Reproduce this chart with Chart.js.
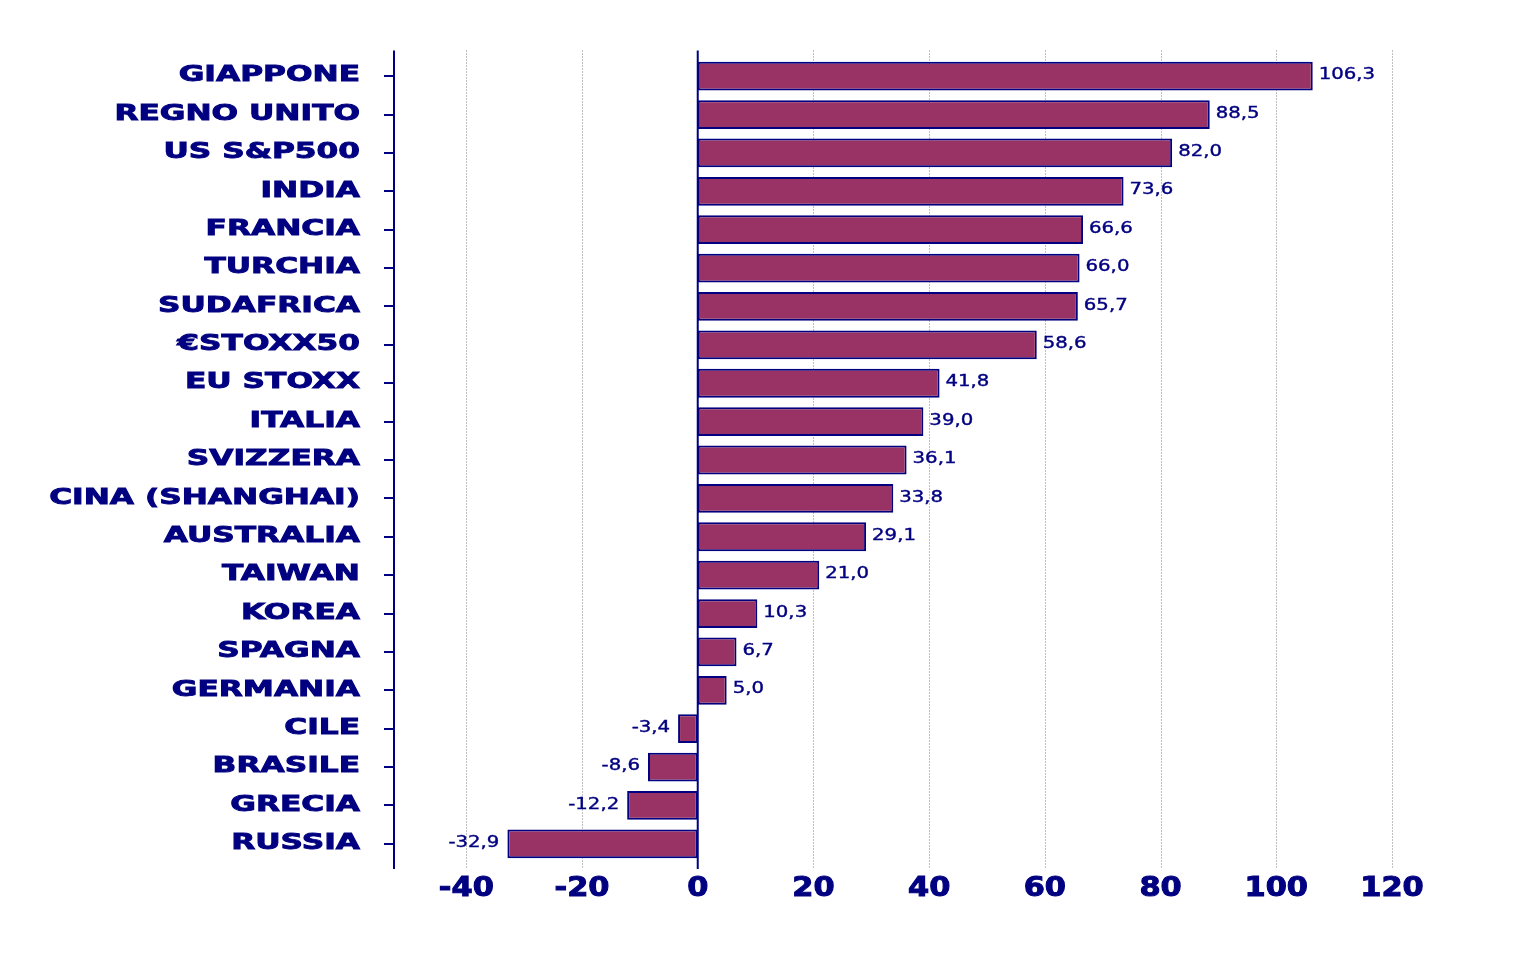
<!DOCTYPE html>
<html>
<head>
<meta charset="utf-8">
<script src="https://cdn.jsdelivr.net/npm/chart.js@4"></script>
<style>
  html, body { margin: 0; padding: 0; background: #fff; }
  #wrap { width: 1536px; height: 970px; }
</style>
</head>
<body>
<div id="wrap"><canvas id="chart" width="1536" height="970"></canvas></div>
<script>
const categories = ['GIAPPONE', 'REGNO UNITO', 'US S&P500', 'INDIA', 'FRANCIA', 'TURCHIA', 'SUDAFRICA',
  '€STOXX50', 'EU STOXX', 'ITALIA', 'SVIZZERA', 'CINA (SHANGHAI)', 'AUSTRALIA', 'TAIWAN',
  'KOREA', 'SPAGNA', 'GERMANIA', 'CILE', 'BRASILE', 'GRECIA', 'RUSSIA'];
const values = [106.3, 88.5, 82.0, 73.6, 66.6, 66.0, 65.7, 58.6, 41.8, 39.0, 36.1, 33.8, 29.1, 21.0,
  10.3, 6.7, 5.0, -3.4, -8.6, -12.2, -32.9];
const xTicks = [-40, -20, 0, 20, 40, 60, 80, 100, 120];

const NAVY = '#000080';
const FONT = '"DejaVu Sans", Verdana, sans-serif';

// draw text stretched horizontally (and a bit heavier), like the original
function wideText(ctx, text, x, y, align, sx, weight) {
    ctx.save();
    ctx.translate(x, y);
    ctx.scale(sx, 1);
    ctx.textAlign = align;
    ctx.textBaseline = 'middle';
    ctx.fillText(text, 0, 0);
    if (weight) {
        ctx.lineWidth = weight;
        ctx.strokeStyle = NAVY;
        ctx.strokeText(text, 0, 0);
    }
    ctx.restore();
}

const extras = {
    id: 'extras',
    beforeDatasetsDraw(chart) {
        const ctx = chart.ctx, area = chart.chartArea, xs = chart.scales.x;
        const top = area.top - 6.5, bottom = area.bottom + 6;
        ctx.save();
        // dotted grid lines
        ctx.strokeStyle = '#808080';
        ctx.lineWidth = 1;
        ctx.setLineDash([1, 2]);
        xTicks.forEach(v => {
            if (v === 0) return;
            const x = Math.round(xs.getPixelForValue(v)) + 0.5;
            ctx.beginPath();
            ctx.moveTo(x, top);
            ctx.lineTo(x, bottom);
            ctx.stroke();
        });
        ctx.restore();
    },
    afterDatasetsDraw(chart) {
        const ctx = chart.ctx, area = chart.chartArea, xs = chart.scales.x, ys = chart.scales.y;
        const top = area.top - 6.5, bottom = area.bottom + 6;
        ctx.save();
        ctx.strokeStyle = NAVY;
        ctx.lineWidth = 2;
        // left axis and zero line
        [area.left, xs.getPixelForValue(0)].forEach(x => {
            ctx.beginPath();
            ctx.moveTo(x, top);
            ctx.lineTo(x, bottom);
            ctx.stroke();
        });
        ctx.fillStyle = NAVY;
        // category labels
        ctx.font = 'bold 22px ' + FONT;
        categories.forEach((c, i) => {
            wideText(ctx, c, 360, ys.getPixelForValue(i) - 0.5, 'right', 1.42, 0.9);
        });
        // x tick labels
        ctx.font = 'bold 26px ' + FONT;
        xTicks.forEach(v => {
            wideText(ctx, String(v), xs.getPixelForValue(v), 889, 'center', 1.17, 1);
        });
        // value labels
        ctx.font = '16px ' + FONT;
        values.forEach((v, i) => {
            const label = v.toFixed(1).replace('.', ',');
            const x = xs.getPixelForValue(v);
            const y = ys.getPixelForValue(i) - 1;
            if (v >= 0) wideText(ctx, label, x + 6, y, 'left', 1.23, 0.4);
            else wideText(ctx, label, x - 8, y, 'right', 1.23, 0.4);
        });
        ctx.restore();
    }
};

new Chart(document.getElementById('chart').getContext('2d'), {
    type: 'bar',
    data: {
        labels: categories,
        datasets: [{
            data: values,
            backgroundColor: '#993366',
            borderColor: NAVY,
            borderWidth: 2,
            borderSkipped: false,
            categoryPercentage: 1,
            barPercentage: 0.75
        }]
    },
    options: {
        indexAxis: 'y',
        responsive: false,
        animation: false,
        layout: { padding: { left: 344, right: 144, top: 57, bottom: 57 } },
        scales: {
            x: {
                min: -52.5,
                max: 120,
                afterBuildTicks: scale => { scale.ticks = xTicks.map(v => ({ value: v })); },
                afterFit: scale => { scale.height = 50; },
                grid: { display: false },
                border: { display: false },
                ticks: { display: false }
            },
            y: {
                afterFit: scale => { scale.width = 50; },
                grid: {
                    offset: false,
                    drawOnChartArea: false,
                    drawTicks: true,
                    tickLength: 10,
                    color: NAVY,
                    lineWidth: 2
                },
                border: { display: false },
                ticks: { display: false }
            }
        },
        plugins: {
            legend: { display: false },
            tooltip: { enabled: false }
        }
    },
    plugins: [extras]
});
</script>
</body>
</html>
